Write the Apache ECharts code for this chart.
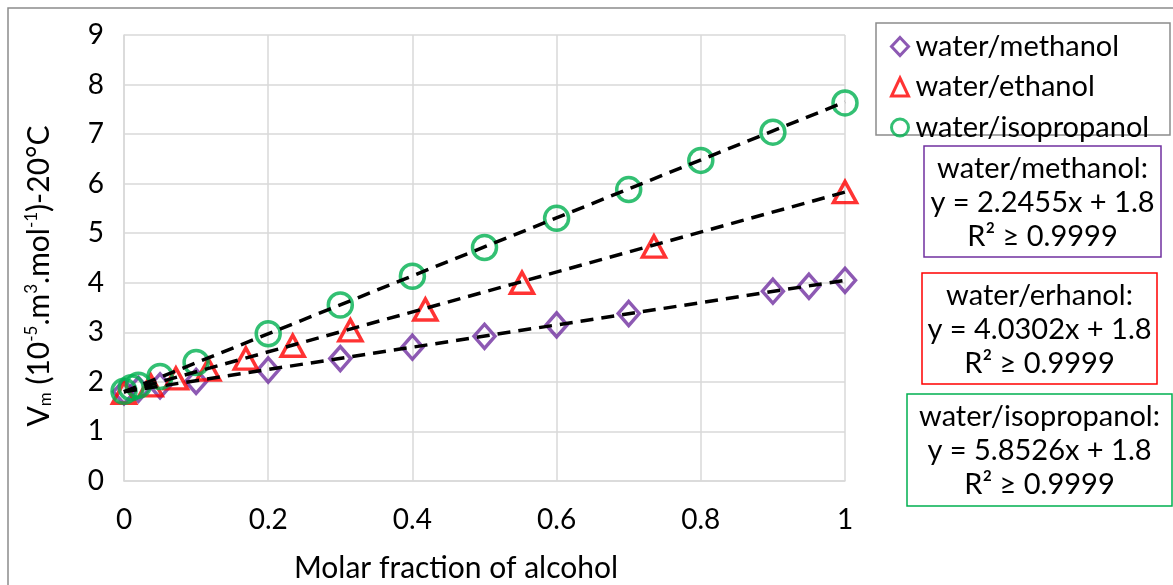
<!DOCTYPE html>
<html><head><meta charset="utf-8">
<script src="https://cdn.jsdelivr.net/npm/echarts@6/dist/echarts.min.js"></script>
<style>html,body{margin:0;padding:0;background:#fff}#c{width:1173px;height:585px}</style>
</head><body><div id="c"></div>
<script>
const FONT = 'Lato';
const seriesNames = ['water/methanol', 'water/ethanol', 'water/isopropanol'];
const methX = [0, 0.02, 0.05, 0.1, 0.2, 0.3, 0.4, 0.5, 0.6, 0.7, 0.9, 0.95, 1];
const methY = [1.8, 1.85, 1.92, 2.01, 2.24, 2.47, 2.70, 2.92, 3.15, 3.38, 3.83, 3.93, 4.05];
const ethX = [0, 0.037, 0.072, 0.117, 0.169, 0.234, 0.314, 0.418, 0.552, 0.735, 1];
const ethY = [1.78, 1.93, 2.07, 2.25, 2.47, 2.73, 3.04, 3.46, 4.0, 4.73, 5.83];
const isoX = [0, 0.01, 0.02, 0.05, 0.1, 0.2, 0.3, 0.4, 0.5, 0.6, 0.7, 0.8, 0.9, 1];
const isoY = [1.81, 1.88, 1.93, 2.11, 2.39, 2.97, 3.55, 4.13, 4.71, 5.30, 5.88, 6.47, 7.04, 7.63];
const trendX = [0, 1];
const trendMeth = [1.8, 4.05];
const trendEth = [1.8, 5.83];
const trendIso = [1.8, 7.65];
const xTicks = [0, 0.2, 0.4, 0.6, 0.8, 1];
const yTicks = [0, 1, 2, 3, 4, 5, 6, 7, 8, 9];
const eqTexts = [
  'water/methanol:\ny = 2.2455x + 1.8\nR² ≥ 0.9999',
  'water/erhanol:\ny = 4.0302x + 1.8\nR² ≥ 0.9999',
  'water/isopropanol:\ny = 5.8526x + 1.8\nR² ≥ 0.9999'
];
const colors = ['#7030A0', '#FF0000', '#00B050'];

const pairs = (xs, ys) => xs.map((x, i) => [x, ys[i]]);

const chart = echarts.init(document.getElementById('c'), null, {renderer: 'canvas'});

const markerSeries = [
  {name: seriesNames[0], data: pairs(methX, methY), symbol: 'diamond', symbolSize: [21, 24], color: colors[0]},
  {name: seriesNames[1], data: pairs(ethX, ethY), symbol: 'triangle', symbolSize: [23, 21], color: colors[1]},
  {name: seriesNames[2], data: pairs(isoX, isoY), symbol: 'circle', symbolSize: 24, color: colors[2]}
].map(s => ({
  type: 'scatter', name: s.name, data: s.data, symbol: s.symbol, symbolSize: s.symbolSize,
  itemStyle: {color: 'rgba(255,255,255,0)', borderColor: s.color, borderWidth: 3.5},
  z: 2, emphasis: {disabled: true}
}));

const trendSeries = [trendMeth, trendEth, trendIso].map(t => ({
  type: 'line', data: pairs(trendX, t), symbol: 'none', silent: true,
  lineStyle: {color: '#000', width: 3.5, type: [13, 8]}, z: 3
}));

const boxes = [
  {x: 924, y: 146, w: 237, h: 111, c: colors[0]},
  {x: 922, y: 273, w: 235, h: 111, c: colors[1]},
  {x: 907, y: 394, w: 265, h: 112, c: colors[2]}
];
const graphics = [
  {type: 'rect', shape: {x: 8, y: 8, width: 1200, height: 700}, style: {fill: 'none', stroke: '#8c8c8c', lineWidth: 1.5}, silent: true},
  {type: 'rect', shape: {x: 876, y: 23, width: 294, height: 112}, style: {fill: 'none', stroke: '#8c8c8c', lineWidth: 1.5}, silent: true},
  {type: 'text', x: 456, y: 568, style: {text: 'Molar fraction of alcohol', fontFamily: FONT, fontSize: 30, fill: '#000', textAlign: 'center', textVerticalAlign: 'middle'}},
  {type: 'text', x: 39, y: 276, rotation: Math.PI / 2,
    style: {
      text: '{n|V}{sub|m}{n| (10}{sup|-5}{n|.m}{sup|3}{n|.mol}{sup|-1}{n|)-20°C}',
      textAlign: 'center', textVerticalAlign: 'middle',
      rich: {
        n: {fontFamily: FONT, fontSize: 30, fill: '#000', lineHeight: 36},
        sub: {fontFamily: FONT, fontSize: 17, fill: '#000', lineHeight: 36, padding: [13, 0, 0, 0]},
        sup: {fontFamily: FONT, fontSize: 17, fill: '#000', lineHeight: 36, padding: [0, 0, 15, 0]}
      }
    }}
];
boxes.forEach((b, i) => {
  graphics.push({type: 'rect', shape: {x: b.x, y: b.y, width: b.w, height: b.h}, style: {fill: '#fff', stroke: b.c, lineWidth: 1.5}});
  graphics.push({type: 'text', x: b.x + b.w / 2, y: b.y + b.h / 2 + 1, style: {text: eqTexts[i], fontFamily: FONT, fontSize: 29, lineHeight: 34, fill: '#000', textAlign: 'center', textVerticalAlign: 'middle'}});
});

chart.setOption({
  animation: false,
  backgroundColor: '#fff',
  grid: {left: 124, top: 35, width: 721, height: 446, containLabel: false},
  xAxis: {
    type: 'value', min: xTicks[0], max: xTicks[xTicks.length - 1], interval: 0.2,
    axisLine: {show: true, lineStyle: {color: '#d9d9d9', width: 1.5}},
    axisTick: {show: false},
    splitLine: {show: true, lineStyle: {color: '#d9d9d9', width: 1.5}},
    axisLabel: {fontFamily: FONT, fontSize: 28, color: '#000', margin: 25}
  },
  yAxis: {
    type: 'value', min: yTicks[0], max: yTicks[yTicks.length - 1], interval: 1,
    axisLine: {show: true, lineStyle: {color: '#d9d9d9', width: 1.5}},
    axisTick: {show: false},
    splitLine: {show: true, lineStyle: {color: '#d9d9d9', width: 1.5}},
    axisLabel: {fontFamily: FONT, fontSize: 28, color: '#000', margin: 20}
  },
  legend: {
    orient: 'vertical', left: 876, top: 23,
    data: seriesNames,
    borderWidth: 0, padding: [9, 10, 0, 14],
    itemWidth: 17, itemHeight: 18, itemGap: 11.5,
    itemStyle: {borderWidth: 3},
    textStyle: {fontFamily: FONT, fontSize: 29, color: '#000', padding: [0, 0, 0, 2]},
    selectedMode: false
  },
  graphic: graphics,
  series: markerSeries.concat(trendSeries)
});
</script></body></html>
